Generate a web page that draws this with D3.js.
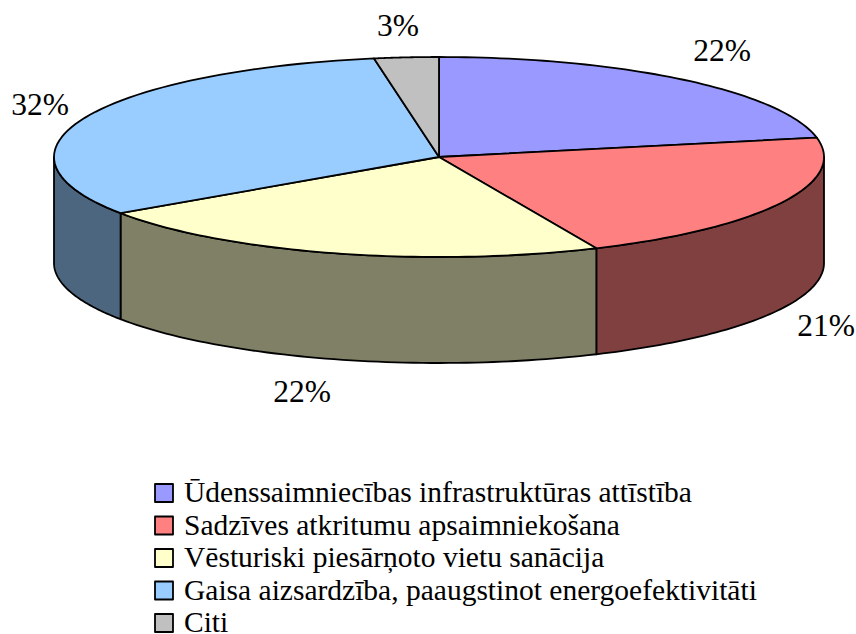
<!DOCTYPE html>
<html>
<head>
<meta charset="utf-8">
<script src="https://cdn.jsdelivr.net/npm/d3@7"></script>
<style>
  html, body { margin: 0; padding: 0; background: #fff; }
  svg { display: block; }
  text { font-family: "Liberation Serif", serif; fill: #000; }
</style>
</head>
<body>
<svg id="chart" width="856" height="634"></svg>
<script>
"use strict";

const categories = [
  "Ūdenssaimniecības infrastruktūras attīstība",
  "Sadzīves atkritumu apsaimniekošana",
  "Vēsturiski piesārņoto vietu sanācija",
  "Gaisa aizsardzība, paaugstinot energoefektivitāti",
  "Citi"
];
const shares = [21.9, 21.4, 22.2, 31.8, 2.7];  // labels are rounded
const percentLabels = ["22%", "21%", "22%", "32%", "3%"];
const topColors = ["#9999ff", "#ff8080", "#ffffcc", "#99ccff", "#c0c0c0"];
const sideColors = ["#4d4d80", "#804040", "#808066", "#4d6680", "#606060"];

const svg = d3.select("#chart");
const cx = 439, cy = 157, rx = 385, ry = 100, depth = 106;

// flatten the pie into an ellipse: angle 0 is up, clockwise
const px = a => cx + rx * Math.sin(a);
const py = a => cy - ry * Math.cos(a);

const arcs = d3.pie().sort(null).value(d => d)(shares);

function rimPoints(start, end) {
  return d3.range(0, 61).map(i => {
    const a = start + (end - start) * i / 60;
    return [px(a), py(a)];
  });
}

function wedgePath(start, end) {
  return "M" + cx + "," + cy + "L" + rimPoints(start, end).join("L") + "Z";
}

// outer wall for the visible (lower) part of a slice
function sidePath(start, end) {
  const s = Math.max(start, Math.PI / 2), e = Math.min(end, Math.PI * 3 / 2);
  if (e <= s) return null;
  const pts = rimPoints(s, e);
  const low = pts.map(p => [p[0], p[1] + depth]).reverse();
  return "M" + pts.join("L") + "L" + low.join("L") + "Z";
}

function styled(sel) {
  return sel.attr("stroke", "#000")
    .attr("stroke-width", 1.8)
    .attr("stroke-linejoin", "round");
}

styled(svg.append("g").selectAll("path")
  .data(arcs.filter(d => sidePath(d.startAngle, d.endAngle)))
  .join("path")
  .attr("d", d => sidePath(d.startAngle, d.endAngle))
  .attr("fill", d => sideColors[d.index]));

styled(svg.append("g").selectAll("path")
  .data(arcs)
  .join("path")
  .attr("d", d => wedgePath(d.startAngle, d.endAngle))
  .attr("fill", d => topColors[d.index]));

// percent labels sit at fixed spots around the pie
const labelAnchor = [[722, 61], [826, 336], [302, 402], [40, 115], [398, 36]];
svg.append("g").selectAll("text")
  .data(percentLabels)
  .join("text")
  .attr("x", (d, i) => labelAnchor[i][0])
  .attr("y", (d, i) => labelAnchor[i][1])
  .attr("text-anchor", "middle")
  .attr("font-size", 31.5)
  .text(d => d);

// legend
const legendY = d3.scalePoint().domain(categories).range([502, 632]);
const legend = svg.append("g").selectAll("g")
  .data(categories)
  .join("g")
  .attr("transform", d => `translate(155,${legendY(d)})`);

styled(legend.append("rect")
  .attr("x", 0).attr("y", -18)
  .attr("width", 18).attr("height", 18)
  .attr("fill", (d, i) => topColors[i]));

legend.append("text")
  .attr("x", 29).attr("y", 0)
  .attr("font-size", 29.5)
  .text(d => d);
</script>
</body>
</html>
